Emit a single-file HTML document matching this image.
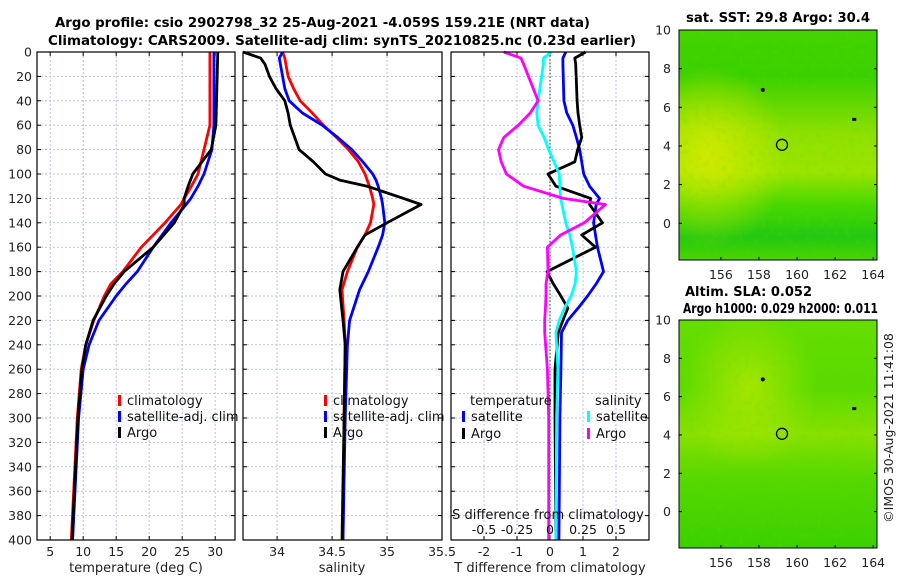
<!DOCTYPE html>
<html><head><meta charset="utf-8"><style>
body{margin:0;background:#fff}
svg{display:block;font-family:"DejaVu Sans","Liberation Sans",sans-serif}
</style></head><body>
<svg id="c" width="900" height="580">
<defs>
<linearGradient id="g1" x1="0" y1="0" x2="0" y2="1">
<stop offset="0" stop-color="#44d400"/><stop offset="0.2" stop-color="#3ad000"/><stop offset="0.45" stop-color="#8ee000"/><stop offset="0.62" stop-color="#9be400"/><stop offset="0.75" stop-color="#4cd800"/><stop offset="0.9" stop-color="#22c811"/><stop offset="1" stop-color="#4ad400"/></linearGradient>
<radialGradient id="y1" cx="0.15" cy="0.55" r="0.4"><stop offset="0" stop-color="#d6ea00" stop-opacity="0.9"/><stop offset="1" stop-color="#d6ea00" stop-opacity="0"/></radialGradient>
<linearGradient id="g2" x1="0" y1="0" x2="0" y2="1">
<stop offset="0" stop-color="#66dd00"/><stop offset="0.3" stop-color="#5ada00"/><stop offset="0.5" stop-color="#88e000"/><stop offset="0.7" stop-color="#55d800"/><stop offset="1" stop-color="#3cd000"/></linearGradient>
<radialGradient id="y2" cx="0.35" cy="0.3" r="0.35"><stop offset="0" stop-color="#b8e800" stop-opacity="0.8"/><stop offset="1" stop-color="#b8e800" stop-opacity="0"/></radialGradient>
<filter id="nz" x="0" y="0" width="1" height="1">
<feTurbulence type="fractalNoise" baseFrequency="0.18" numOctaves="1" seed="3"/>
<feColorMatrix type="matrix" values="0 0 0 0 0.1  0 0 0 0 0.75  0 0 0 0 0  0 0 0 1.4 -0.75"/>
</filter>
</defs>
<g id="root"></g>
</svg>
<script>
const tDepth=[0,60,80,100,110,120,125,140,160,180,190,200,220,240,260,300,400];
const tClim =[29.2,29.2,28.3,27.4,26.4,25.3,24.8,22.4,18.8,16,14.2,13.2,11.6,10.4,9.7,9.1,8.2];
const tArgo =[30.4,30.1,29.4,26.6,25.9,25.3,25.3,23.8,20.6,16.2,14.7,13.5,11.5,10.4,9.8,9.2,8.3];
const tSat  =[29.8,29.8,29.5,28.3,27.4,26.3,25.6,23.3,20.6,18.2,16.5,15,12.4,10.9,10,9.3,8.4];
const sDepth=[0,5,10,20,30,40,50,60,70,80,90,100,105,110,120,125,140,150,160,180,195,220,240,300,400];
const sArgo=[33.69,33.85,33.89,33.93,33.99,34.07,34.1,34.12,34.16,34.2,34.33,34.44,34.57,34.82,35.15,35.31,35.0,34.8,34.73,34.6,34.57,34.6,34.62,34.61,34.59];
const sClim=[34.05,34.07,34.08,34.1,34.15,34.21,34.32,34.42,34.54,34.65,34.74,34.8,34.82,34.84,34.87,34.88,34.85,34.8,34.73,34.64,34.59,34.61,34.62,34.61,34.6];
const sSat =[34.05,34.02,34.03,34.05,34.07,34.11,34.23,34.41,34.55,34.68,34.78,34.87,34.9,34.92,34.95,34.96,34.98,34.96,34.92,34.83,34.75,34.66,34.64,34.62,34.6];
const dDepth=[0,5,10,40,50,60,70,80,90,100,110,120,125,140,150,160,180,190,200,210,220,230,260,300,400];
const dTArgo=[1.08,0.75,0.78,0.82,0.85,0.9,0.96,0.84,0.75,-0.06,0.18,1.23,1.2,1.59,0.96,1.38,-0.09,0.1,0.33,0.54,0.39,0.25,0.15,0.15,0.18];
const dTSat =[0.48,0.39,0.39,0.42,0.51,0.69,0.8,0.9,0.96,1.02,1.2,1.5,1.4,1.32,1.38,1.44,1.62,1.4,1.14,0.85,0.54,0.35,0.33,0.3,0.27];
const dSSat =[0.01,-0.05,-0.05,-0.09,-0.1,-0.09,-0.045,-0.01,0.03,0.07,0.075,0.08,0.09,0.12,0.15,0.17,0.2,0.19,0.16,0.11,0.07,0.045,0.06,0.05,0.045];
const dSArgo=[-0.35,-0.22,-0.2,-0.09,-0.15,-0.24,-0.35,-0.39,-0.37,-0.33,-0.2,0.1,0.42,0.26,0.08,-0.02,-0.015,-0.03,-0.03,-0.035,-0.04,-0.04,-0.02,-0.01,-0.01];
const depthTicks=[0,20,40,60,80,100,120,140,160,180,200,220,240,260,280,300,320,340,360,380,400];
const tTicks=[5,10,15,20,25,30];
const sTicks=[34,34.5,35,35.5];
const dTTicks=[-2,-1,0,1,2];
const dSTicks=[-0.5,-0.25,0,0.25,0.5];
const dSLabels=["-0.5","-0.25","0","0.25","0.5"];

const NS='http://www.w3.org/2000/svg';const root=document.getElementById('root');
function el(t,a,p){const e=document.createElementNS(NS,t);for(const k in a)e.setAttribute(k,a[k]);(p||root).appendChild(e);return e;}
function txt(s,a,p){const e=el('text',a,p);e.textContent=s;return e;}
const Y0=52,Y1=540;const yD=d=>Y0+(d/400)*(Y1-Y0);

function panel(name,x0,x1,lo,hi,ticks,labels,showY){
  const g=el('g',{});
  
  
  const X=v=>x0+(v-lo)/(hi-lo)*(x1-x0);
  depthTicks.forEach(d=>{if(d>0&&d<400)el('line',{x1:x0,x2:x1,y1:yD(d),y2:yD(d),stroke:'#b8c4e8','stroke-dasharray':'2,2','stroke-width':1},g);});
  ticks.forEach(t=>{el('line',{x1:X(t),x2:X(t),y1:Y0,y2:Y1,stroke:'#b8c4e8','stroke-dasharray':'2,2','stroke-width':1},g);
    el('line',{x1:X(t),x2:X(t),y1:Y1,y2:Y1-4,stroke:'#000'},g);el('line',{x1:X(t),x2:X(t),y1:Y0,y2:Y0+4,stroke:'#000'},g);});
  depthTicks.forEach(d=>{el('line',{x1:x0,x2:x0+4,y1:yD(d),y2:yD(d),stroke:'#000'},g);el('line',{x1:x1,x2:x1-4,y1:yD(d),y2:yD(d),stroke:'#000'},g);
    if(showY){const t=txt(String(d),{x:x0-5,y:yD(d)+4.5,'font-size':12.5,'text-anchor':'end',fill:'#222'},g);
      }});
  ticks.forEach((t,i)=>{const l=txt(labels?labels[i]:String(t),{x:X(t),y:556,'font-size':12.5,'text-anchor':'middle',fill:'#222'},g);
    });
  return {g,X};
}
function line(p,X,vals,deps,col,name){
  const d=vals.map((v,i)=>(i?'L':'M')+X(v).toFixed(1)+','+yD(deps[i]).toFixed(1)).join('');
  const e=el('path',{d,fill:'none',stroke:col,'stroke-width':2.8,'stroke-linejoin':'round'},p);
  
  
}
function frame(p,x0,x1){el('rect',{x:x0,y:Y0,width:x1-x0,height:Y1-Y0,fill:'none',stroke:'#000','stroke-width':1.2},p);}
function leg(p,x,y,col,label,name){
  el('rect',{x:x,y:y-10,width:3,height:11,fill:col},p);
  const t=txt(label,{x:x+9,y:y,'font-size':13,fill:'#111'},p);
  
}

const P1=panel('temperature-panel',37,235,3,33,tTicks,null,true);
line(P1.g,P1.X,tClim,tDepth,'#f00','temp-climatology-line');
line(P1.g,P1.X,tSat,tDepth,'#00f','temp-satellite-line');
line(P1.g,P1.X,tArgo,tDepth,'#000','temp-argo-line');
frame(P1.g,37,235);
leg(P1.g,118,405,'#f00','climatology','legend-climatology');
leg(P1.g,118,421,'#00f','satellite-adj. clim','legend-satellite');
leg(P1.g,118,437,'#000','Argo','legend-argo');
let t=txt('temperature (deg C)',{x:136,y:572,'font-size':13,'text-anchor':'middle',fill:'#222'},P1.g);


const P2=panel('salinity-panel',243,442,33.69,35.5,sTicks,null,false);
line(P2.g,P2.X,sClim,sDepth,'#f00','sal-climatology-line');
line(P2.g,P2.X,sSat,sDepth,'#00f','sal-satellite-line');
line(P2.g,P2.X,sArgo,sDepth,'#000','sal-argo-line');
frame(P2.g,243,442);
leg(P2.g,324,405,'#f00','climatology','legend-climatology');
leg(P2.g,324,421,'#00f','satellite-adj. clim','legend-satellite');
leg(P2.g,324,437,'#000','Argo','legend-argo');
t=txt('salinity',{x:342,y:572,'font-size':13,'text-anchor':'middle',fill:'#222'},P2.g);


const P3=panel('difference-panel',451,649,-3,3,dTTicks,null,false);
const XS=v=>P3.X(v*4);
el('line',{x1:P3.X(0),x2:P3.X(0),y1:Y0,y2:Y1,stroke:'#333','stroke-dasharray':'1.5,2','stroke-width':1},P3.g);
line(P3.g,P3.X,dTSat,dDepth,'#00f','tdiff-satellite-line');
line(P3.g,P3.X,dTArgo,dDepth,'#000','tdiff-argo-line');
line(P3.g,XS,dSSat,dDepth,'#0ff','sdiff-satellite-line');
line(P3.g,XS,dSArgo,dDepth,'#f0f','sdiff-argo-line');
frame(P3.g,451,649);
t=txt('temperature',{x:470,y:405,'font-size':13,fill:'#111'},P3.g);
t=txt('salinity',{x:595,y:405,'font-size':13,fill:'#111'},P3.g);
leg(P3.g,462,421,'#00f','satellite','legend-t-satellite');
leg(P3.g,462,438,'#000','Argo','legend-t-argo');
leg(P3.g,587,421,'#0ff','satellite','legend-s-satellite');
leg(P3.g,587,438,'#f0f','Argo','legend-s-argo');
t=txt('S difference from climatology',{x:548,y:519,'font-size':13,'text-anchor':'middle',fill:'#111'},P3.g);
dSTicks.forEach((v,i)=>{const l=txt(dSLabels[i],{x:XS(v),y:534,'font-size':12.5,'text-anchor':'middle',fill:'#111'},P3.g);
  });
t=txt('T difference from climatology',{x:550,y:572,'font-size':13,'text-anchor':'middle',fill:'#222'},P3.g);

t=txt('Argo profile: csio 2902798_32 25-Aug-2021 -4.059S 159.21E (NRT data)',{x:55,y:27,'font-size':13,'font-weight':'bold',textLength:535,lengthAdjust:'spacingAndGlyphs'});
t=txt('Climatology: CARS2009. Satellite-adj clim: synTS_20210825.nc (0.23d earlier)',{x:48,y:45,'font-size':13,'font-weight':'bold',textLength:588,lengthAdjust:'spacingAndGlyphs'});

const latTicks=[10,8,6,4,2,0];const lonTicks=[156,158,160,162,164];
function map(name,y0,y1,fill,yel){
  const g=el('g',{});
  const x0=679,x1=877;const X=v=>x0+(v-153.8)/(164.2-153.8)*(x1-x0);const Y=v=>y0+(10-v)/(11.9)*(y1-y0);
  el('rect',{x:x0,y:y0,width:x1-x0,height:y1-y0,fill:fill},g);
  el('rect',{x:x0,y:y0,width:x1-x0,height:y1-y0,fill:yel},g);
  el('rect',{x:x0,y:y0,width:x1-x0,height:y1-y0,filter:'url(#nz)',opacity:0.55},g);
  el('circle',{cx:X(159.21),cy:Y(4.06),r:5.5,fill:'none',stroke:'#000','stroke-width':1.3},g);
  el('circle',{cx:X(158.2),cy:Y(6.9),r:2,fill:'#000'},g);
  el('rect',{x:X(162.9),y:Y(5.35)-2,width:4,height:3,fill:'#000'},g);
  el('rect',{x:x0,y:y0,width:x1-x0,height:y1-y0,fill:'none',stroke:'#000'},g);
  latTicks.forEach(v=>{el('line',{x1:x0,x2:x0+3,y1:Y(v),y2:Y(v),stroke:'#000'},g);el('line',{x1:x1,x2:x1-3,y1:Y(v),y2:Y(v),stroke:'#000'},g);
    const l=txt(String(v),{x:x0-8,y:Y(v)+4.5,'font-size':12.5,'text-anchor':'end',fill:'#222'},g);});
  lonTicks.forEach(v=>{el('line',{x1:X(v),x2:X(v),y1:y1,y2:y1-3,stroke:'#000'},g);
    const l=txt(String(v),{x:X(v),y:y1+19,'font-size':12.5,'text-anchor':'middle',fill:'#222'},g);});
  return g;
}
map('sst-map',30,260,'url(#g1)','url(#y1)');
map('sla-map',320,548,'url(#g2)','url(#y2)');
t=txt('sat. SST: 29.8 Argo: 30.4',{x:686,y:22,'font-size':13,'font-weight':'bold',textLength:184,lengthAdjust:'spacingAndGlyphs'});
t=txt('Altim. SLA: 0.052',{x:685,y:296,'font-size':13,'font-weight':'bold',textLength:127,lengthAdjust:'spacingAndGlyphs'});
t=txt('Argo h1000: 0.029 h2000: 0.011',{x:683,y:313,'font-size':13,'font-weight':'bold',textLength:195,lengthAdjust:'spacingAndGlyphs'});
t=txt('©IMOS 30-Aug-2021 11:41:08',{x:0,y:0,'font-size':12.5,fill:'#222',transform:'translate(893,428) rotate(-90)','text-anchor':'middle'});
</script>
</body></html>
